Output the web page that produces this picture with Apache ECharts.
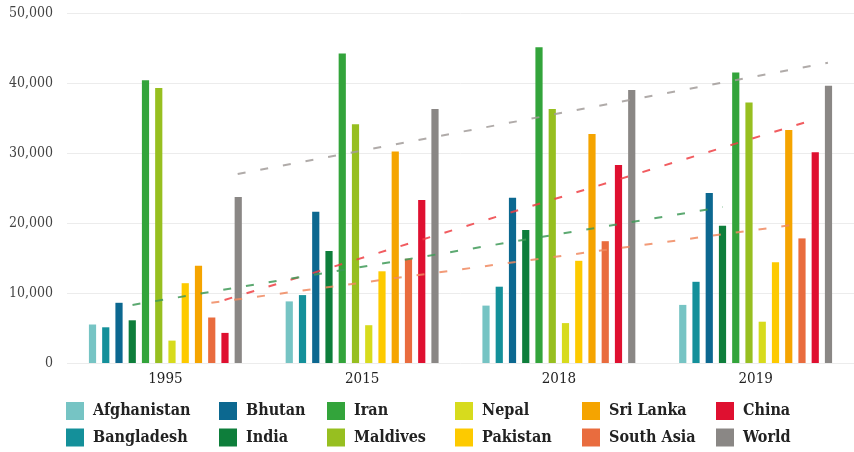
<!DOCTYPE html>
<html><head><meta charset="utf-8">
<script src="https://cdn.jsdelivr.net/npm/echarts@6/dist/echarts.min.js"></script>
<style>html,body{margin:0;padding:0;background:#fff}#c{width:854px;height:452px}</style>
</head><body><div id="c"></div>
<script>
// ---- data ----
const years = ['1995', '2015', '2018', '2019'];
const seriesNames = ['Afghanistan','Bangladesh','Bhutan','India','Iran','Maldives','Nepal','Pakistan','Sri Lanka','South Asia','China','World'];
const afghanistan = [5500, 8800, 8200, 8300];
const bangladesh  = [5100, 9700, 10900, 11600];
const bhutan      = [8600, 21600, 23600, 24300];
const india       = [6100, 16000, 19000, 19600];
const iran        = [40400, 44200, 45100, 41500];
const maldives    = [39300, 34100, 36300, 37200];
const nepal       = [3200, 5400, 5700, 5900];
const pakistan    = [11400, 13100, 14600, 14400];
const sriLanka    = [13900, 30200, 32700, 33300];
const southAsia   = [6500, 14900, 17400, 17800];
const china       = [4300, 23300, 28300, 30100];
const world       = [23700, 36300, 39000, 39600];
const values = [afghanistan, bangladesh, bhutan, india, iran, maldives, nepal, pakistan, sriLanka, southAsia, china, world];
// trend lines (start at first year, end at last year)
const trendWorld     = [27000, 42900];
const trendChina     = [9000, 34800];
const trendIndia     = [8300, 22300];
const trendSouthAsia = [8600, 19900];
const yTicks = [0, 10000, 20000, 30000, 40000, 50000];

// ---- styles ----
const colors = ['#76c4c4','#14909a','#0c6890','#0e7e3b','#33a43b','#97bf20','#d7db1d','#fdca00','#f5a400','#e96c3e','#df1030','#8a8785'];
const trendColors = {World:'#a29c9a', China:'#ee3f44', India:'#3f9a58', 'South Asia':'#f08a60'};
const FONT = '"DejaVu Serif Condensed","DejaVu Serif",serif';

const gridLeft = 67, gridWidth = 793;
const barW = 7.2, gapRatio = 0.84;
const period = barW * (1 + gapRatio);
const band = gridWidth / years.length;
function offsetOf(name){ const i = seriesNames.indexOf(name); return (i - (seriesNames.length-1)/2) * period / band; }

const series = seriesNames.map((n, i) => ({
  name: n, type: 'bar', data: values[i], barWidth: barW, barGap: (gapRatio*100)+'%',
  itemStyle: {color: colors[i]}, z: 2
}));
const trends = [['World', trendWorld], ['China', trendChina], ['India', trendIndia], ['South Asia', trendSouthAsia]];
trends.forEach(([n, t]) => {
  const off = offsetOf(n);
  series.push({
    name: n + ' trend', type: 'line', xAxisIndex: 1, yAxisIndex: 0, symbol: 'none', silent: true, z: 5,
    data: [[0 + off, t[0]], [years.length - 1 + off, t[1]]],
    lineStyle: {color: trendColors[n], width: 2, type: [8, 15], opacity: 0.85}
  });
});

const legendGroups = [['Afghanistan','Bangladesh'],['Bhutan','India'],['Iran','Maldives'],['Nepal','Pakistan'],['Sri Lanka','South Asia'],['China','World']];
const legendX = [66, 219, 327, 455, 582, 716];
const legends = legendGroups.map((g, k) => ({
  data: g, orient: 'vertical', left: legendX[k], top: 402, padding: 0,
  itemWidth: 18, itemHeight: 18, itemGap: 8.5, icon: 'rect', selectedMode: false,
  textStyle: {fontFamily: FONT, fontWeight: 'bold', fontSize: 16, color: '#222', padding: [0,0,0,4]}
}));

const chart = echarts.init(document.getElementById('c'), null, {renderer: 'canvas'});
chart.setOption({
  animation: false,
  backgroundColor: '#fff',
  grid: {left: gridLeft, top: 13, width: gridWidth, height: 350, containLabel: false},
  legend: legends,
  xAxis: [
    {type: 'category', data: years, axisLine: {show: false}, axisTick: {show: false},
     axisLabel: {fontFamily: FONT, fontSize: 15, color: '#222', margin: 9}},
    {type: 'value', min: -0.5, max: years.length - 0.5, show: false}
  ],
  yAxis: {type: 'value', min: yTicks[0], max: yTicks[yTicks.length-1], interval: 10000,
    axisLine: {show: false}, axisTick: {show: false},
    axisLabel: {fontFamily: FONT, fontSize: 14, color: '#444', margin: 14,
      formatter: v => v.toLocaleString('en-US')},
    splitLine: {lineStyle: {color: '#ececec', width: 1}}},
  series: series
});
</script></body></html>
